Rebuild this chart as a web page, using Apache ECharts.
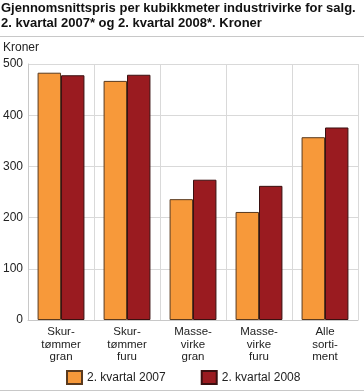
<!DOCTYPE html>
<html><head><meta charset="utf-8">
<script src="https://cdn.jsdelivr.net/npm/echarts@6/dist/echarts.min.js"></script>
<style>html,body{margin:0;padding:0;background:#fff}#c{width:364px;height:392px}</style>
</head><body><div id="c"></div>
<script>
const categories = ['Skur-\ntømmer\ngran', 'Skur-\ntømmer\nfuru', 'Masse-\nvirke\ngran', 'Masse-\nvirke\nfuru', 'Alle\nsorti-\nment'];
const seriesNames = ['2. kvartal 2007', '2. kvartal 2008'];
const values2007 = [483, 467, 236, 211, 357];
const values2008 = [478, 479, 274, 262, 376];
const yTicks = [0, 100, 200, 300, 400, 500];

const chart = echarts.init(document.getElementById('c'), null, {renderer: 'canvas'});
const font = 'Liberation Sans, Arial, sans-serif';
chart.setOption({
  animation: false,
  textStyle: {fontFamily: font},
  title: {
    text: 'Gjennomsnittspris per kubikkmeter industrivirke for salg.\n2. kvartal 2007* og 2. kvartal 2008*. Kroner',
    left: 0, top: 0, padding: [1, 1, 1, 1],
    textStyle: {fontSize: 13, fontWeight: 'bold', color: '#111', lineHeight: 15, fontFamily: font}
  },
  graphic: [
    {type: 'line', shape: {x1: 0, y1: 36.5, x2: 364, y2: 36.5}, style: {stroke: '#c8c8c8', lineWidth: 1}},
    {type: 'line', shape: {x1: 0, y1: 390.5, x2: 364, y2: 390.5}, style: {stroke: '#c8c8c8', lineWidth: 1}},
    {type: 'text', left: 3, top: 42, style: {text: 'Kroner', fontSize: 12, fill: '#222', fontFamily: font}}
  ],
  legend: {
    data: seriesNames,
    bottom: 2, left: 61,
    icon: 'rect',
    itemWidth: 15, itemHeight: 13, itemGap: 35,
    textStyle: {fontSize: 12, color: '#222', fontFamily: font}
  },
  grid: {left: 27, right: 6, top: 64, bottom: 72, containLabel: false},
  xAxis: {
    type: 'category',
    data: categories,
    axisLine: {lineStyle: {color: '#c8c8c8'}},
    axisTick: {show: false},
    splitLine: {show: true, lineStyle: {color: '#d9d9d9'}},
    axisLabel: {color: '#222', fontSize: 11.5, lineHeight: 12.5, margin: 6, interval: 0, fontFamily: font}
  },
  yAxis: {
    type: 'value',
    min: 0, max: 500, interval: 100,
    axisLine: {show: true, lineStyle: {color: '#c8c8c8'}},
    axisTick: {show: false},
    splitLine: {lineStyle: {color: '#d9d9d9'}},
    axisLabel: {color: '#222', fontSize: 12, margin: 5, fontFamily: font,
      formatter: v => yTicks.includes(v) ? String(v) : ''}
  },
  series: [
    {name: seriesNames[0], type: 'bar', data: values2007, barGap: '0%', barCategoryGap: '29%',
      itemStyle: {color: '#f7993a', borderColor: '#5a3a1e', borderWidth: 1}},
    {name: seriesNames[1], type: 'bar', data: values2008, barGap: '0%', barCategoryGap: '29%',
      itemStyle: {color: '#9a1b20', borderColor: '#3a1010', borderWidth: 1}}
  ]
});
</script></body></html>
